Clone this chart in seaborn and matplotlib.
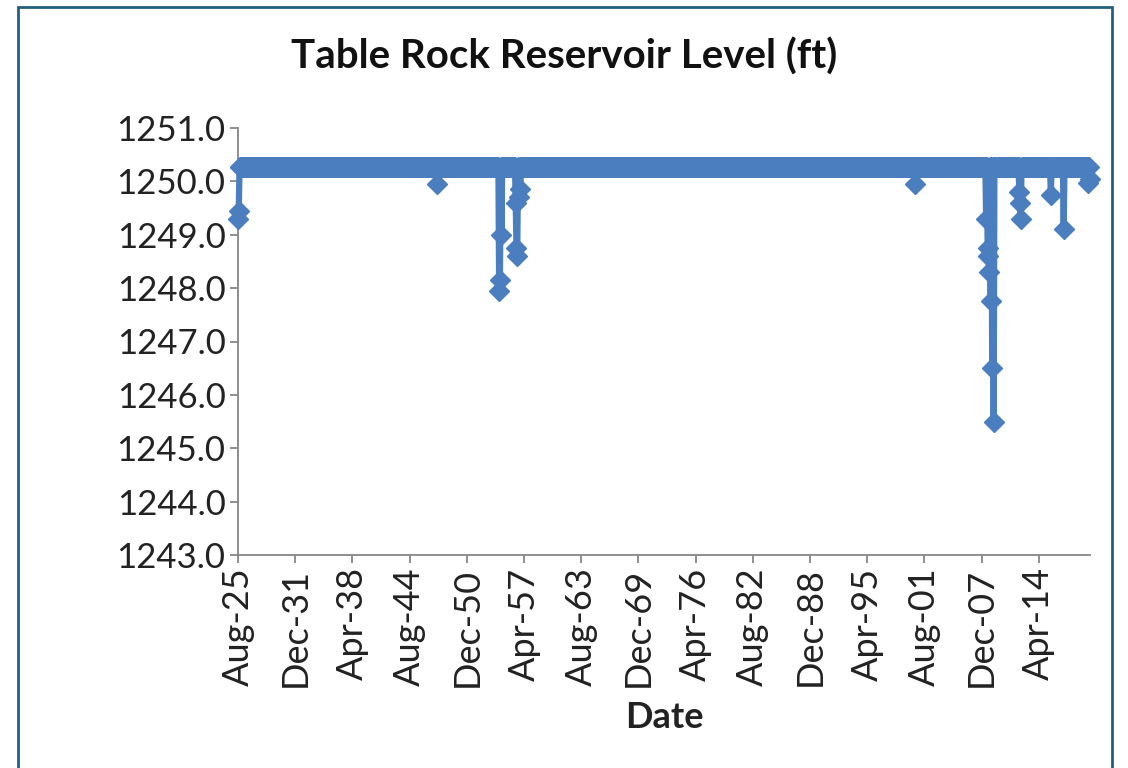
import matplotlib
matplotlib.use("Agg")
import matplotlib.pyplot as plt
import matplotlib.dates as mdates
from matplotlib.patches import Rectangle
import seaborn as sns
import pandas as pd

# Datos
# ------
first_month = "1925-08"
last_month = "2019-12"
full_pool_level = 1250.27  # nivel habitual (banda superior)

# meses en que el embalse baja del nivel habitual
dip_months = [
    "1925-08", "1925-09",
    "1947-09",
    "1954-07", "1954-08", "1954-10",
    "1956-05", "1956-06", "1956-07", "1956-09", "1956-11",
    "2000-08",
    "2008-06", "2008-08", "2008-09", "2008-10", "2008-12", "2009-02", "2009-04",
    "2012-02", "2012-03", "2012-04",
    "2015-08",
    "2017-01",
    "2019-10", "2019-12",
]
dip_levels = [
    1249.30, 1249.45,
    1249.95,
    1247.95, 1248.15, 1249.00,
    1249.60, 1248.75, 1248.60, 1249.70, 1249.85,
    1249.95,
    1249.30, 1248.75, 1248.60, 1248.30, 1247.75, 1246.50, 1245.50,
    1249.80, 1249.60, 1249.30,
    1249.75,
    1249.10,
    1249.97, 1250.05,
]

tick_dates = ["1925-08", "1931-12", "1938-04", "1944-08", "1950-12", "1957-04",
              "1963-08", "1969-12", "1976-04", "1982-08", "1988-12", "1995-04",
              "2001-08", "2007-12", "2014-04"]
y_ticks = [1243, 1244, 1245, 1246, 1247, 1248, 1249, 1250, 1251]

# Serie mensual
# ------
meses = pd.date_range(first_month, last_month, freq="MS")
df = pd.DataFrame({"Date": meses, "Level": full_pool_level})
bajadas = pd.Series(dip_levels, index=pd.to_datetime(dip_months))
mask = df["Date"].isin(bajadas.index)
df.loc[mask, "Level"] = bajadas.loc[df.loc[mask, "Date"]].values

# Gráfico
# ------
sns.set_style("white")
plt.rcParams["font.family"] = ["Lato", "DejaVu Sans"]

azul = "#4a7ebf"
gris = "#868686"

fig = plt.figure(figsize=(11.28, 7.68), dpi=100)
ax = fig.add_axes([238 / 1128, 1 - 555 / 768, (1090 - 238) / 1128, (555 - 128) / 768])

sns.lineplot(data=df, x="Date", y="Level", ax=ax, color=azul, linewidth=4.5,
             marker="D", markersize=10, markeredgecolor=azul, markeredgewidth=1,
             clip_on=False, zorder=3)

ax.set_xlim(pd.Timestamp(first_month), pd.Timestamp(last_month))
ax.set_ylim(1243, 1251)
ax.set_yticks(y_ticks)
ax.set_yticklabels([f"{v:.1f}" for v in y_ticks])
ax.set_xticks(pd.to_datetime(tick_dates))
ax.xaxis.set_major_formatter(mdates.DateFormatter("%b-%y"))

for lbl in ax.get_xticklabels():
    lbl.set_rotation(90)

ax.tick_params(axis="both", labelsize=25, labelcolor="#222222", color=gris,
               length=6, width=1.3, direction="out", pad=3)
ax.tick_params(axis="x", labelsize=26)
ax.yaxis.set_ticks_position("left")
ax.xaxis.set_ticks_position("bottom")

for lado in ["top", "right"]:
    ax.spines[lado].set_visible(False)
for lado in ["left", "bottom"]:
    ax.spines[lado].set_color(gris)
    ax.spines[lado].set_linewidth(1.3)

ax.set_ylabel("")
ax.set_xlabel("Date", fontsize=26, fontweight="bold", color="#222222", labelpad=10)

fig.text(0.5, 1 - 57 / 768, "Table Rock Reservoir Level (ft)", ha="center", va="center",
         fontsize=29, fontweight="bold", color="#111111")

# marco exterior
fig.patches.append(Rectangle((18 / 1128, -0.05), (1112 - 18) / 1128, 1.05 - 7 / 768,
                             transform=fig.transFigure, fill=False,
                             edgecolor="#23607e", linewidth=2))

fig.savefig("out.png", dpi=100)
